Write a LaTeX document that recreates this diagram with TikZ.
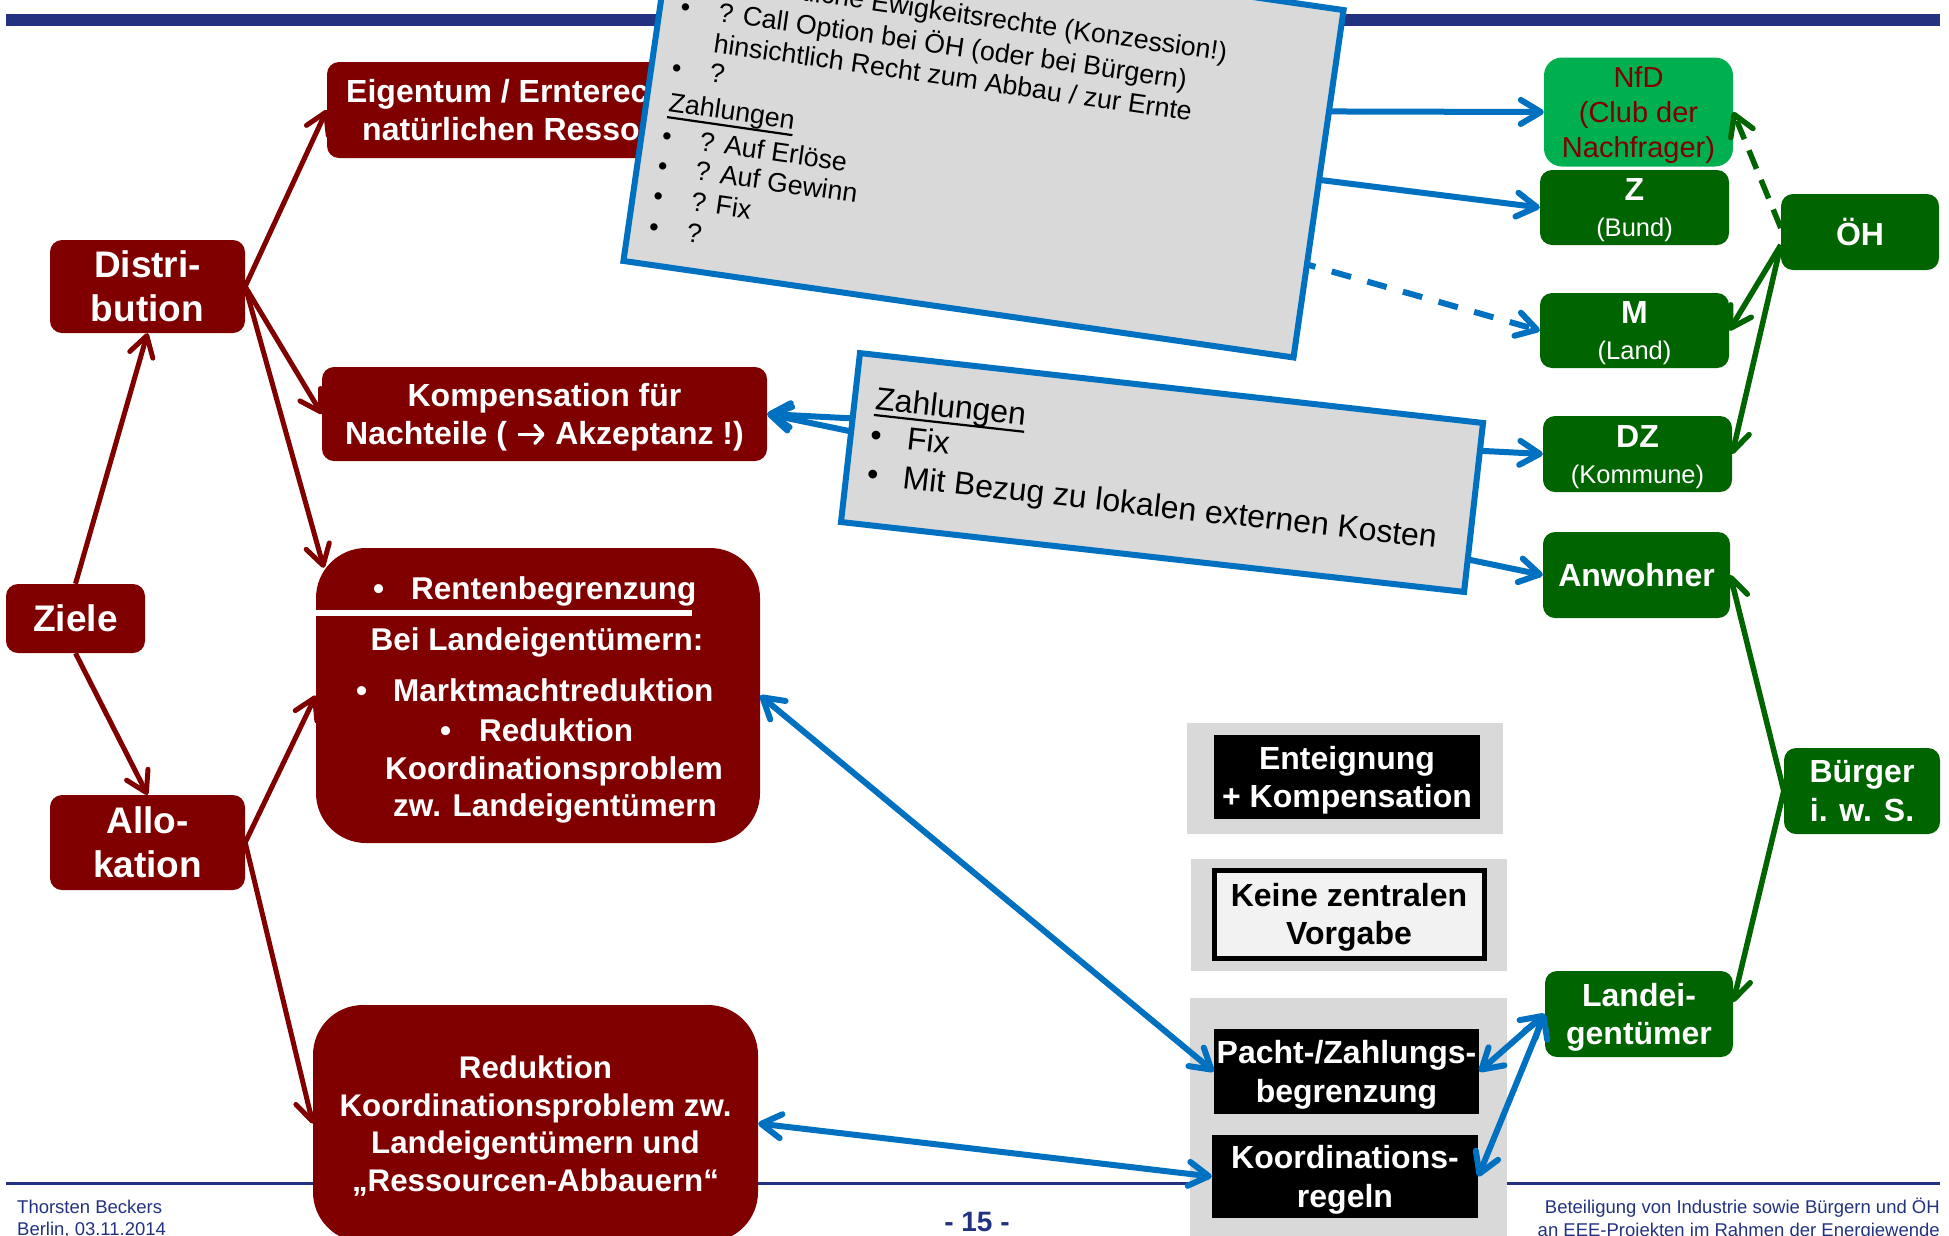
\documentclass[tikz,border=0pt]{standalone}
\usepackage{fontspec}
\setmainfont{Liberation Sans}
\usetikzlibrary{arrows.meta,calc}

\definecolor{dred}{RGB}{128,0,0}
\definecolor{dgreen}{RGB}{0,100,0}
\definecolor{lgreen}{RGB}{0,176,80}
\definecolor{mblue}{RGB}{0,112,192}
\definecolor{navy}{RGB}{35,50,128}
\definecolor{panel}{RGB}{217,217,217}
\definecolor{offwhite}{RGB}{242,242,242}

% underlined heading with a rule that scales with the picture
\newcommand\ulword[1]{\setbox0\hbox{#1}\rlap{\raisebox{-7pt}{\rule{\wd0}{2.2pt}}}\box0}
% bold inline arrow used inside a label
\newcommand\inarrow{\tikz[baseline=-10pt]{\draw[white, line width=3.5pt, -{Straight Barb[round,length=8pt,width=18pt]}] (0,0) -- (27pt,0);}}

\tikzset{
  basebox/.style={inner sep=0pt, align=center, text=white},
  f32/.style={font=\bfseries\fontsize{32}{38.5}\selectfont},
  redbox/.style={basebox, f32, fill=dred, rounded corners=12pt},
  bigred/.style={basebox, fill=dred, rounded corners=50pt, font=\bfseries\fontsize{31.3}{37.7}\selectfont},
  greenbox/.style={basebox, f32, fill=dgreen, rounded corners=12pt},
  actor/.style={greenbox, font=\bfseries\fontsize{32}{36}\selectfont},
  blackbox/.style={basebox, f32, fill=black},
  panelbox/.style={fill=panel, inner sep=0pt},
  notebox/.style={fill=panel, draw=mblue, line width=6pt, inner sep=0pt},
  note/.style={inner sep=0pt, anchor=base west, font=\fontsize{26.8}{31}\selectfont},
  notebig/.style={inner sep=0pt, anchor=base west, font=\fontsize{32}{38}\selectfont},
  rtext/.style={inner sep=0pt, anchor=base west, text=white, font=\bfseries\fontsize{31.5}{38}\selectfont},
  barb/.style={-{Straight Barb[round,length=20pt,width=24pt]}},
  barbs/.style={{Straight Barb[round,length=20pt,width=24pt]}-{Straight Barb[round,length=20pt,width=24pt]}},
  redlink/.style={draw=dred, line width=5pt, barb},
  bluelink/.style={draw=mblue, line width=6pt, barb},
  bluepair/.style={draw=mblue, line width=6pt, barbs},
  greenlink/.style={draw=dgreen, line width=5.5pt, barb},
  foot/.style={inner sep=0pt, text=navy, font=\fontsize{18.5}{22}\selectfont},
}

\begin{document}
\begin{tikzpicture}[x=1pt,y=-1pt]
\useasboundingbox (0,0) rectangle (1949,1235);

% header bar and footer rule
\fill[navy] (6,14) rectangle (1940,26);
\draw[navy, line width=3pt] (6,1183) -- (1940,1183);

% goals (left column)
\node[redbox, minimum width=139pt, minimum height=69pt, font=\bfseries\fontsize{37}{44.5}\selectfont] (ziele) at (75.5,618.5) {Ziele};
\node[redbox, minimum width=195pt, minimum height=93pt, font=\bfseries\fontsize{37}{44.5}\selectfont] (distr) at (147.5,286.5) {Distri-\\bution};
\node[redbox, minimum width=195pt, minimum height=95pt, font=\bfseries\fontsize{37}{43.5}\selectfont] (allo) at (147.5,842.5) {Allo-\\kation};

% instruments
\node[redbox, minimum width=435pt, minimum height=96pt] (eig) at (544.5,110) {Eigentum / Ernterechte an\\natürlichen Ressourcen};
\node[redbox, minimum width=445pt, minimum height=94pt, font=\bfseries\fontsize{32}{37.5}\selectfont] (komp) at (544.5,414) {Kompensation für\\\smash{Nachteile ( \inarrow\ Akzeptanz !)}};

\node[bigred, minimum width=444pt, minimum height=295pt] (renten) at (538,695.5) {};
\draw[white, line width=6pt] (316,613) -- (692,613);
\node[rtext] (rb1) at (373,599) {•};
\node[rtext] (rt1) at (411,599) {Rentenbegrenzung};
\node[rtext, anchor=base] (rt2) at (537,650) {Bei Landeigentümern:};
\node[rtext] (rb3) at (356,701) {•};
\node[rtext] (rt3) at (393,701) {Marktmachtreduktion};
\node[rtext] (rb4) at (440,741) {•};
\node[rtext] (rt4) at (479,741) {Reduktion};
\node[rtext] (rt5) at (385,779) {Koordinationsproblem};
\node[rtext] (rt6) at (393,816) {zw. Landeigentümern};

\node[bigred, minimum width=445pt, minimum height=237pt] (redkoord) at (535.5,1123.5) {Reduktion\\Koordinationsproblem zw.\\Landeigentümern und\\\smash{„Ressourcen-Abbauern“}};

% actors (right column)
\node[greenbox, fill=lgreen, text=dred, rounded corners=18pt, minimum width=189pt, minimum height=109pt, font=\fontsize{29}{35}\selectfont] (nfd) at (1638.5,112) {NfD\\(Club der\\\smash{Nachfrager)}};
\node[actor, minimum width=189pt, minimum height=75pt] (zb) at (1634.5,207.5) {Z\\\smash{\mdseries\fontsize{25.5}{36}\selectfont (Bund)}};
\node[actor, minimum width=189pt, minimum height=75pt] (ml) at (1634.5,330.5) {M\\\smash{\mdseries\fontsize{25.5}{36}\selectfont (Land)}};
\node[actor, minimum width=189pt, minimum height=76pt] (dz) at (1637.5,454) {DZ\\\smash{\mdseries\fontsize{25.5}{36}\selectfont (Kommune)}};
\node[greenbox, minimum width=158pt, minimum height=76pt] (oh) at (1860,232) {ÖH};
\node[greenbox, minimum width=187pt, minimum height=86pt] (anw) at (1636.5,575) {Anwohner};
\node[greenbox, minimum width=156pt, minimum height=86pt] (buerger) at (1862,791) {Bürger\\i. w. S.};
\node[greenbox, minimum width=188pt, minimum height=86pt] (land) at (1639,1014) {Landei-\\\smash{gentümer}};

% regulatory options
\node[panelbox, minimum width=316pt, minimum height=111pt] (pan1) at (1345,778.5) {};
\node[blackbox, minimum width=266pt, minimum height=84pt] (ent) at (1347,777) {Enteignung\\\smash{+ Kompensation}};
\node[panelbox, minimum width=316pt, minimum height=112pt] (pan2) at (1349,915) {};
\node[basebox, f32, text=black, fill=offwhite, draw=black, line width=5pt, minimum width=270pt, minimum height=88pt] (keine) at (1349,914) {Keine zentralen\\\smash{Vorgabe}};
\node[panelbox, minimum width=317pt, minimum height=250pt] (pan3) at (1348.5,1123) {};
\node[blackbox, minimum width=265pt, minimum height=85pt] (pacht) at (1346.5,1071.5) {Pacht-/Zahlungs-\\\smash{begrenzung}};
\node[blackbox, minimum width=266pt, minimum height=83pt] (koord) at (1345,1176.5) {Koordinations-\\\smash{regeln}};

% footer
\node[foot, anchor=base west] (author) at (17,1213.5) {Thorsten Beckers};
\node[foot, anchor=base west] (place) at (17,1235.5) {Berlin, 03.11.2014};
\node[foot, anchor=base east] (title1) at (1940,1213.5) {Beteiligung von Industrie sowie Bürgern und ÖH};
\node[foot, anchor=base east] (title2) at (1940,1236) {an EEE-Projekten im Rahmen der Energiewende};
\node[inner sep=0pt, anchor=base, text=navy, font=\bfseries\fontsize{28}{30}\selectfont] (pagenum) at (977,1231) {- 15 -};

% goal hierarchy
\draw[redlink] (ziele.north) -- (distr.south);
\draw[redlink] (ziele.south) -- (allo.north);
\draw[redlink] (distr.east) -- (eig.west);
\draw[redlink] (distr.east) -- (komp.west);
\draw[redlink] (distr.east) -- ($(renten.north west)+(8,20)$);
\draw[redlink] (allo.east) -- (renten.west);
\draw[redlink] (allo.east) -- (redkoord.west);

% payment flows
\draw[bluelink] (eig.east) -- (nfd.west);
\draw[bluelink] (eig.east) -- (zb.west);
\draw[bluelink, dash pattern=on 20pt off 17pt] (eig.east) -- (ml.west);
\draw[bluepair] (komp.east) -- (dz.west);
\draw[bluepair] (komp.east) -- (anw.west);
\draw[bluepair] (renten.east) -- (pacht.west);
\draw[bluepair] (redkoord.east) -- (koord.west);
\draw[bluepair] (land.west) -- (pacht.east);
\draw[bluepair] (land.west) -- (koord.east);

% actor relations
\draw[greenlink, dash pattern=on 20pt off 12pt] ($(oh.west)+(0,-4)$) -- (nfd.east);
\draw[greenlink] ($(oh.west)+(0,13)$) -- (ml.east);
\draw[greenlink] ($(oh.west)+(0,13)$) -- (dz.east);
\draw[greenlink] (buerger.west) -- (anw.east);
\draw[greenlink] (buerger.west) -- ($(land.east)+(0,-12)$);

% tilted note: rights and payments
\begin{scope}[shift={(983.5,135.5)}, rotate=-8.2, transform shape]
  \node[notebox, minimum width=677pt, minimum height=351pt] (rights) at (0,0) {};
  \node[note] (n0b) at (-318,-108) {•};
  \node[note] (n0) at (-280,-108) {? Staatliche Ewigkeitsrechte (Konzession!)};
  \node[note] (n1b) at (-318,-75) {•};
  \node[note] (n1) at (-280,-75) {? Call Option bei ÖH (oder bei Bürgern)};
  \node[note] (n2) at (-280,-44) {hinsichtlich Recht zum Abbau / zur Ernte};
  \node[note] (n3b) at (-318,-14) {•};
  \node[note] (n3) at (-280,-14) {?};
  \node[note] (nz) at (-316,21) {\ulword{Zahlungen}};
  \node[note] (n4b) at (-318,55) {•};
  \node[note] (n4) at (-280,55) {? Auf Erlöse};
  \node[note] (n5b) at (-318,85) {•};
  \node[note] (n5) at (-280,85) {? Auf Gewinn};
  \node[note] (n6b) at (-318,116) {•};
  \node[note] (n6) at (-280,116) {? Fix};
  \node[note] (n7b) at (-318,147) {•};
  \node[note] (n7) at (-280,147) {?};
\end{scope}

% tilted note: local payments
\begin{scope}[shift={(1162,472.5)}, rotate=-6.4, transform shape]
  \node[notebox, minimum width=627pt, minimum height=170pt] (payments) at (0,0) {};
  \node[notebig] (qz) at (-293,-31) {\ulword{Zahlungen}};
  \node[notebig] (q1b) at (-294,5.5) {•};
  \node[notebig] (q1) at (-257,5.5) {Fix};
  \node[notebig] (q2b) at (-293,44.5) {•};
  \node[notebig] (q2) at (-257,44.5) {Mit Bezug zu lokalen externen Kosten};
\end{scope}
\end{tikzpicture}
\end{document}
